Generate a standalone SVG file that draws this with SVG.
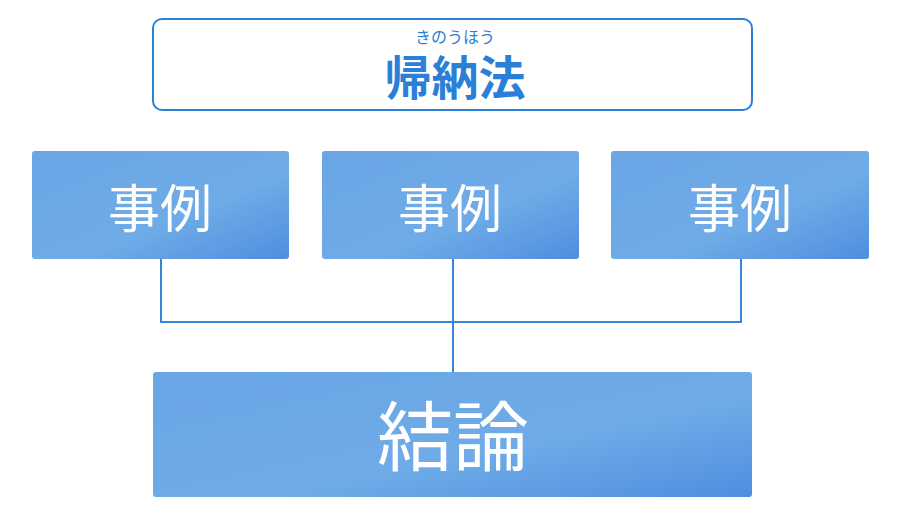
<svg xmlns="http://www.w3.org/2000/svg" width="900" height="517" viewBox="0 0 900 517">
<defs>
<linearGradient id="g" x1="0" y1="0" x2="1" y2="1">
<stop offset="0" stop-color="#6aa6e6"/>
<stop offset="0.6" stop-color="#6eabe7"/>
<stop offset="1" stop-color="#4f8ee0"/>
</linearGradient>
<style>
.box{fill:url(#g);}
.lbl{fill:#ffffff;font-family:"Noto Sans CJK JP","Noto Sans CJK SC",sans-serif;text-anchor:middle;}
.con{stroke:#3585dc;stroke-width:2;fill:none;}
</style>
</defs>
<rect width="900" height="517" fill="#ffffff"/>
<g id="title">
<rect x="153" y="19" width="599" height="91" rx="9" fill="#ffffff" stroke="#2a7fd8" stroke-width="2"/>
<text x="455" y="43" font-family="Noto Sans CJK JP,sans-serif" font-size="16" fill="#2a7fd8" text-anchor="middle">きのうほう</text>
<text x="455" y="95" font-family="Noto Sans CJK JP,sans-serif" font-size="47" font-weight="bold" fill="#2a7fd8" text-anchor="middle">帰納法</text>
</g>
<g id="connectors">
<path class="con" d="M161 259V322H741V259M453 259V372"/>
</g>
<g id="case1">
<rect class="box" x="32" y="151" width="257" height="108" rx="3"/>
<text class="lbl" x="160" y="228" font-size="52">事例</text>
</g>
<g id="case2">
<rect class="box" x="322" y="151" width="257" height="108" rx="3"/>
<text class="lbl" x="450" y="228" font-size="52">事例</text>
</g>
<g id="case3">
<rect class="box" x="611" y="151" width="258" height="108" rx="3"/>
<text class="lbl" x="740" y="228" font-size="52">事例</text>
</g>
<g id="conclusion">
<rect class="box" x="153" y="372" width="599" height="125" rx="3"/>
<text class="lbl" x="453" y="465" font-size="76">結論</text>
</g>
</svg>
